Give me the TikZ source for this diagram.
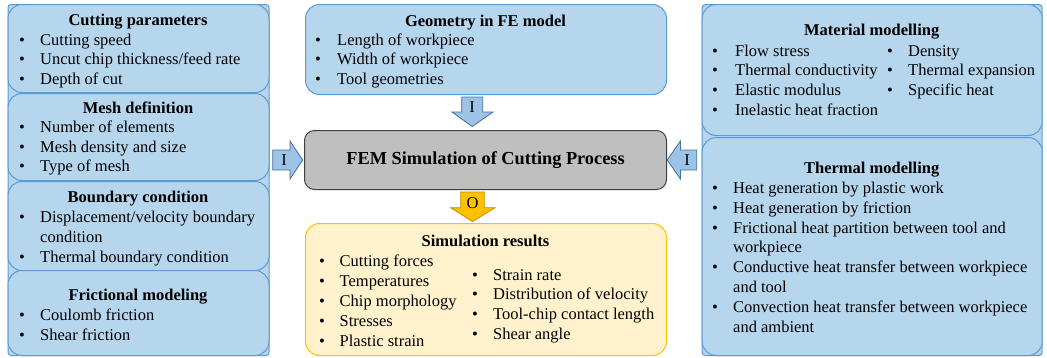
\documentclass[tikz,border=0pt]{standalone}
\usepackage{fontspec}
\setmainfont{Liberation Serif}
\definecolor{lblue}{HTML}{B6D6EE}
\definecolor{bord}{HTML}{5B9BD5}
\definecolor{arblue}{HTML}{9DC3E6}
\definecolor{ardark}{HTML}{41719C}
\definecolor{gfill}{HTML}{BFBFBF}
\definecolor{gbord}{HTML}{404040}
\definecolor{lorange}{HTML}{FFF2CC}
\definecolor{orbord}{HTML}{FFC000}
\definecolor{ordark}{HTML}{BF9000}
\newcommand\blt{\makebox[21pt][l]{\textbullet}}
\newcommand\bltw[1]{\makebox[#1][l]{\textbullet}}
\newcommand\cont{\makebox[21pt][l]{}}
\newcommand\lines[1]{\vtop{\let\\\cr\halign{##\hfil\cr#1\crcr}}}
\tikzset{
  outerbg/.style={draw=bord, fill=lblue, line width=1pt, rounded corners=3pt, inner sep=0pt, anchor=north west},
  boxb/.style={draw=bord, fill=lblue, line width=1pt, rounded corners=14pt, inner sep=0pt, anchor=north west},
  ttl/.style={font=\fontsize{16.5}{19.7}\selectfont\bfseries, inner sep=0pt, anchor=base},
  itm/.style={font=\fontsize{16.5}{19.7}\selectfont, inner sep=0pt, anchor=base west},
  itmb/.style={font=\fontsize{16.5}{19.85}\selectfont, inner sep=0pt, anchor=base west},
  barrow/.style={draw=ardark, fill=arblue, line width=0.8pt, line join=miter},
  oarrow/.style={draw=ordark, fill=orbord, line width=0.8pt, line join=miter},
  alab/.style={font=\fontsize{16.5}{19.7}\selectfont, inner sep=0pt},
}
\begin{document}
\begin{tikzpicture}[x=1pt,y=-1pt]
\useasboundingbox (0,0) rectangle (1047,357);
% ---------- left column ----------
\node[outerbg, minimum width=261pt, minimum height=351pt] (lbg) at (7.5,4) {};
\node[boxb, minimum width=261pt, minimum height=88pt] (cut) at (7.5,4) {};
\node[boxb, minimum width=261pt, minimum height=87pt] (mesh) at (7.5,93) {};
\node[boxb, minimum width=261pt, minimum height=89pt] (bound) at (7.5,181) {};
\node[boxb, minimum width=261pt, minimum height=85pt] (fric) at (7.5,270) {};
\node[ttl] (cutT) at (138,25) {Cutting parameters};
\node[itm] (cutI) at (19,45) {\lines{\blt Cutting speed\\\blt Uncut chip thickness/feed rate\\\blt Depth of cut}};
\node[ttl] (meshT) at (138,113) {Mesh definition};
\node[itm] (meshI) at (19,132.5) {\lines{\blt Number of elements\\\blt Mesh density and size\\\blt Type of mesh}};
\node[ttl] (boundT) at (138,202) {Boundary condition};
\node[itm] (boundI) at (19,222.7) {\lines{\blt Displacement/velocity boundary\\\cont condition\\\blt Thermal boundary condition}};
\node[ttl] (fricT) at (138,300.7) {Frictional modeling};
\node[itm] (fricI) at (19,320.7) {\lines{\blt Coulomb friction\\\blt Shear friction}};
% ---------- centre ----------
\node[boxb, minimum width=361pt, minimum height=90pt] (geo) at (305,4) {};
\node[ttl] (geoT) at (485.5,26) {Geometry in FE model};
\node[itm] (geoI) at (315,45) {\lines{\bltw{22pt}Length of workpiece\\\bltw{22pt}Width of workpiece\\\bltw{22pt}Tool geometries}};
\node[draw=gbord, fill=gfill, line width=1pt, rounded corners=10pt, inner sep=0pt, anchor=north west,
      minimum width=362pt, minimum height=59pt] (fem) at (304,130) {};
\node[font=\fontsize{18.3}{22}\selectfont\bfseries, inner sep=0pt] (femT) at (fem.center) {FEM Simulation of Cutting Process};
\node[draw=orbord, fill=lorange, line width=1pt, rounded corners=14pt, inner sep=0pt, anchor=north west,
      minimum width=361pt, minimum height=132pt] (sim) at (305,223) {};
\node[ttl] (simT) at (485.5,246.7) {Simulation results};
\node[itmb] (simL) at (319,266.7) {\lines{\bltw{20.5pt}Cutting forces\\\bltw{20.5pt}Temperatures\\\bltw{20.5pt}Chip morphology\\\bltw{20.5pt}Stresses\\\bltw{20.5pt}Plastic strain}};
\node[itmb] (simR) at (472,280) {\lines{\blt Strain rate\\\blt Distribution of velocity\\\blt Tool-chip contact length\\\blt Shear angle}};
% ---------- right column ----------
\node[outerbg, minimum width=340pt, minimum height=351pt] (rbg) at (701.7,4) {};
\node[boxb, minimum width=340pt, minimum height=131pt] (mat) at (701.7,4) {};
\node[boxb, minimum width=340pt, minimum height=218pt] (therm) at (701.7,137) {};
\node[ttl] (matT) at (871.7,35) {Material modelling};
\node[itm] (matL) at (712,56) {\lines{\bltw{23pt}Flow stress\\\bltw{23pt}Thermal conductivity\\\bltw{23pt}Elastic modulus\\\bltw{23pt}Inelastic heat fraction}};
\node[itm] (matR) at (887,56) {\lines{\blt Density\\\blt Thermal expansion\\\blt Specific heat}};
\node[ttl] (thermT) at (871.7,173.3) {Thermal modelling};
\node[itmb] (thermI) at (712,193.3) {\lines{\blt Heat generation by plastic work\\\blt Heat generation by friction\\\blt Frictional heat partition between tool and\\\cont workpiece\\\blt Conductive heat transfer between workpiece\\\cont and tool\\\blt Convection heat transfer between workpiece\\\cont and ambient}};
% ---------- arrows ----------
\draw[barrow] (461.7,97) -- (482.7,97) -- (482.7,112) -- (493,112) -- (472.2,126.5) -- (452,112) -- (461.7,112) -- cycle;
\node[alab] (aTop) at (472.2,107) {I};
\draw[oarrow] (460.7,192) -- (484.3,192) -- (484.3,207.7) -- (495,207.7) -- (472.5,221.5) -- (450.7,207.7) -- (460.7,207.7) -- cycle;
\node[alab] (aBot) at (472.5,203) {O};
\draw[barrow] (272.7,150) -- (290,150) -- (290,141) -- (302.7,160) -- (290,179) -- (290,170) -- (272.7,170) -- cycle;
\node[alab] (aLeft) at (284,160) {I};
\draw[barrow] (696.7,150) -- (680.5,150) -- (680.5,141) -- (667.2,160) -- (680.5,179) -- (680.5,170) -- (696.7,170) -- cycle;
\node[alab] (aRight) at (687,160) {I};
\end{tikzpicture}
\end{document}
